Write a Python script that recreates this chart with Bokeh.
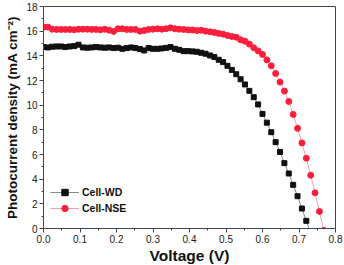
from bokeh.plotting import figure
from bokeh.models import FixedTicker, Range1d, Legend, LegendItem
from bokeh.embed import file_html
from bokeh.resources import INLINE

step = 0.012
wd_J = [14.71, 14.68, 14.74, 14.76, 14.76, 14.71, 14.76, 14.79, 14.90, 14.68,
        14.66, 14.68, 14.71, 14.68, 14.66, 14.68, 14.63, 14.66, 14.57, 14.63,
        14.68, 14.63, 14.55, 14.44, 14.63, 14.57, 14.57, 14.60, 14.65, 14.71,
        14.57, 14.49, 14.38, 14.38, 14.36, 14.33, 14.25, 14.17, 14.03, 13.90,
        13.68, 13.49, 13.19, 12.86, 12.51, 12.10, 11.68, 11.16, 10.65, 10.06,
        9.29, 8.58, 7.81, 7.00, 6.21, 5.30, 4.46, 3.54, 2.62, 1.62,
        0.62, -0.38]
nse_J = [16.33, 16.33, 16.16, 16.14, 16.14, 16.14, 16.14, 16.11, 16.16, 16.16,
         16.16, 16.14, 16.14, 16.11, 16.16, 16.08, 15.98, 16.19, 16.19, 16.14,
         16.14, 16.14, 16.00, 16.06, 16.14, 16.16, 16.19, 16.16, 16.20, 16.27,
         16.19, 16.16, 16.14, 16.10, 16.10, 16.05, 16.08, 16.00, 15.95, 15.90,
         15.82, 15.76, 15.65, 15.57, 15.51, 15.30, 15.19, 14.95, 14.65, 14.40,
         14.11, 13.67, 13.19, 12.57, 11.87, 11.14, 10.30, 9.25, 8.12, 6.94,
         5.70, 4.32, 2.89, 1.38, -0.15]
wd_V = [round(i * step, 3) for i in range(len(wd_J))]
nse_V = [round(i * step, 3) for i in range(len(nse_J))]

x_ticks = [0.0, 0.1, 0.2, 0.3, 0.4, 0.5, 0.6, 0.7, 0.8]
y_ticks = [0, 2, 4, 6, 8, 10, 12, 14, 16, 18]

AX = "#3e4852"
p = figure(width=352, height=275, output_backend="svg", toolbar_location=None,
           x_range=Range1d(0, 0.8), y_range=Range1d(0, 18),
           min_border_left=51, min_border_right=9, min_border_top=14,
           min_border_bottom=39, margin=(-8, 0, 0, -8))
p.background_fill_color = "white"
p.border_fill_color = "white"
p.outline_line_color = AX
p.outline_line_width = 1
p.xgrid.visible = False
p.ygrid.visible = False

l1 = p.line(wd_V, wd_J, line_color="#7f9090", line_width=1)
s1 = p.scatter(wd_V, wd_J, marker="square", size=5, fill_color="#111111", line_color="#111111")
l2 = p.line(nse_V, nse_J, line_color="#f2a2b6", line_width=1)
s2 = p.scatter(nse_V, nse_J, marker="circle", size=6, fill_color="#ff1e3c", line_color="#ff1e3c")

p.xaxis.ticker = FixedTicker(ticks=x_ticks, minor_ticks=[0.05 + 0.1 * i for i in range(8)])
p.yaxis.ticker = FixedTicker(ticks=y_ticks, minor_ticks=[1 + 2 * i for i in range(9)])
p.xaxis.major_label_overrides = {t: f"{t:.1f}" for t in x_ticks}

for ax in (p.xaxis[0], p.yaxis[0]):
    ax.axis_line_color = AX
    ax.major_tick_line_color = AX
    ax.minor_tick_line_color = AX
    ax.major_tick_out = 4
    ax.major_tick_in = 0
    ax.minor_tick_out = 2
    ax.minor_tick_in = 0
    ax.major_label_text_font = "Liberation Sans"
    ax.major_label_text_font_size = "10px"
    ax.major_label_text_color = "#222222"
    ax.major_label_standoff = 2
    ax.axis_label_text_font = "Liberation Sans"
    ax.axis_label_text_font_style = "bold"
    ax.axis_label_text_color = "#111111"

p.xaxis.axis_label = "Voltage (V)"
p.xaxis.axis_label_text_font_size = "15.5px"
p.xaxis.axis_label_standoff = 1
p.yaxis.axis_label = "Photocurrent density (mA cm\u207b\u00b2)"
p.yaxis.axis_label_text_font_size = "13.5px"
p.yaxis.axis_label_standoff = 3

legend = Legend(items=[LegendItem(label="Cell-WD", renderers=[l1, s1]),
                       LegendItem(label="Cell-NSE", renderers=[l2, s2])],
                location=(7, 12), orientation="vertical")
legend.border_line_color = None
legend.background_fill_alpha = 0
legend.padding = 0
legend.margin = 0
legend.spacing = 0
legend.glyph_width = 29
legend.glyph_height = 16
legend.label_height = 16
legend.label_standoff = 3
legend.label_text_font = "Liberation Sans"
legend.label_text_font_style = "bold"
legend.label_text_font_size = "10.5px"
legend.label_text_color = "#111111"
p.add_layout(legend)

open("out.html", "w").write(file_html(p, INLINE))
